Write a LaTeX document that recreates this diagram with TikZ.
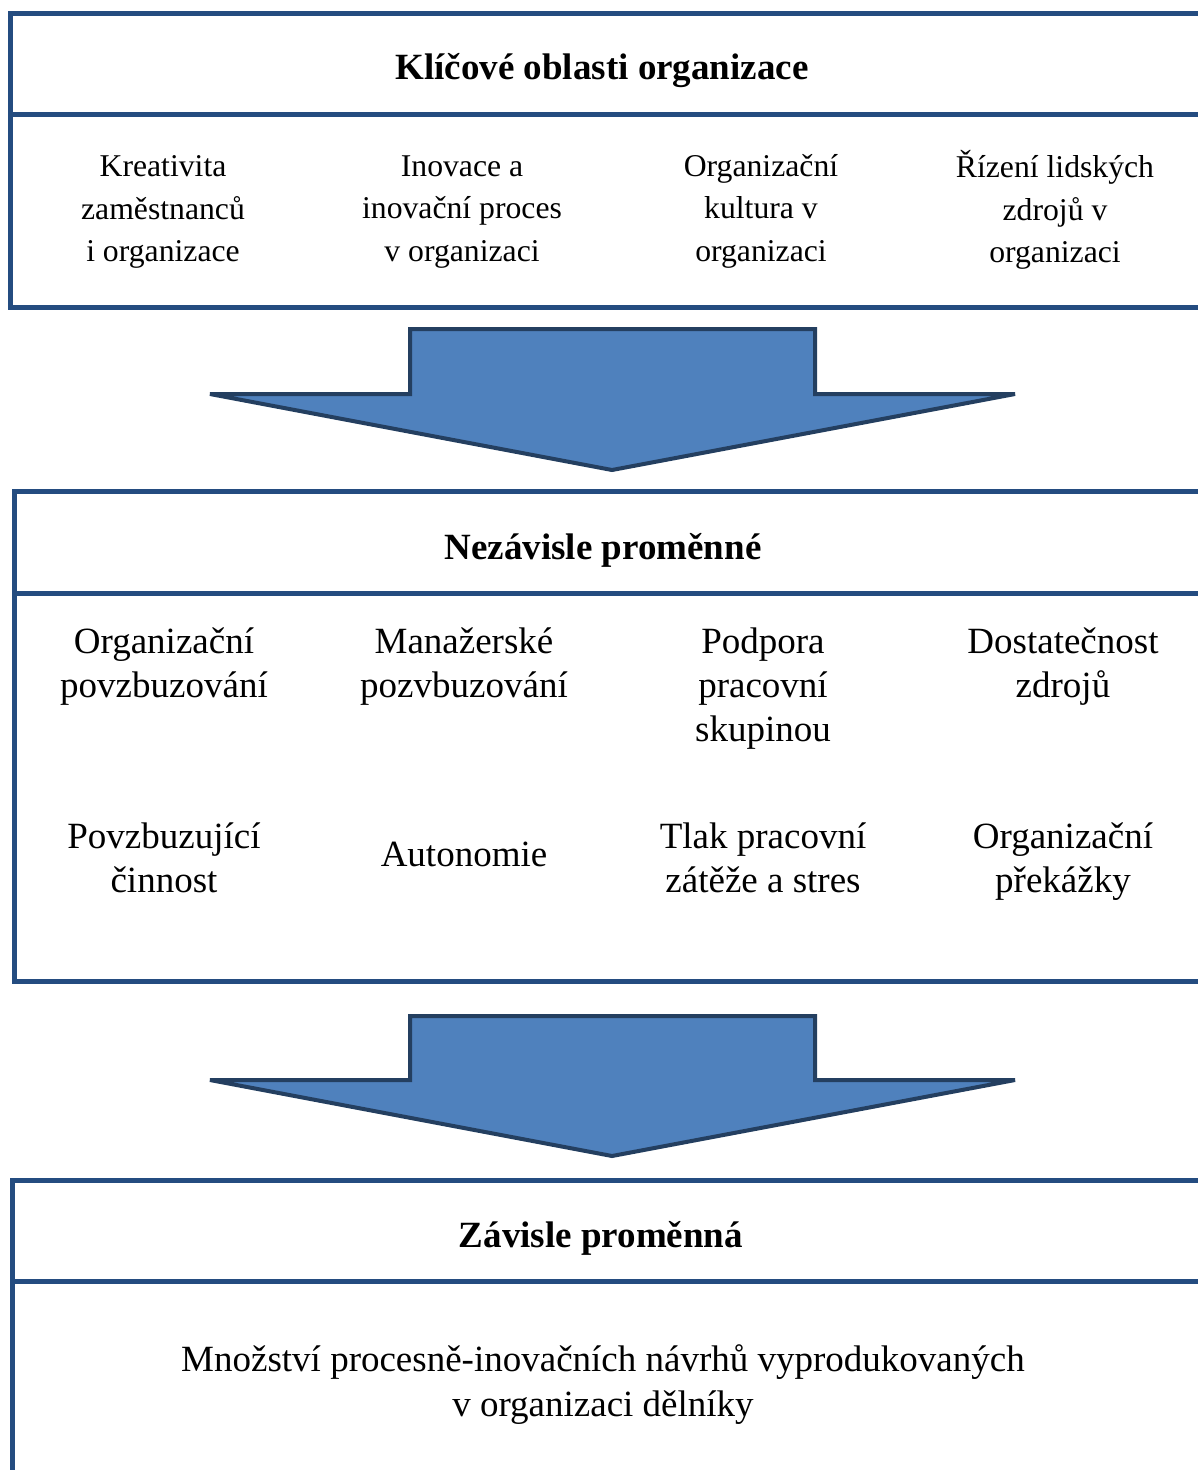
\documentclass[tikz,border=0pt]{standalone}
\usepackage{fontspec}
\setmainfont{Liberation Serif}
\definecolor{boxline}{HTML}{244C80}
\definecolor{arrowfill}{HTML}{4F81BD}
\definecolor{arrowline}{HTML}{243F60}
\begin{document}
\begin{tikzpicture}[x=1pt,y=-1pt,
  frame/.style={draw=boxline,line width=5pt},
  bigarrow/.style={draw=arrowline,fill=arrowfill,line width=4pt,line join=miter},
  head/.style={font=\fontsize{37}{44}\selectfont\bfseries,inner sep=0pt},
  small/.style={font=\fontsize{31.7}{42.5}\selectfont,align=center,inner sep=0pt},
  big/.style={font=\fontsize{37}{44}\selectfont,align=center,inner sep=0pt},
  bigger/.style={font=\fontsize{37}{45}\selectfont,align=center,inner sep=0pt}]
\useasboundingbox (0,0) rectangle (1198,1470);
% box 1
\draw[frame] (1220,13) -- (10,13) -- (10,307) -- (1220,307);
\draw[frame] (10,114) -- (1220,114);
\node[head] (h1) at (602,71) {Klíčové oblasti organizace};
\node[small] (a1) at (163,212) {Kreativita\\zaměstnanců\\i organizace};
\node[small] (a2) at (462,212) {Inovace a\\inovační proces\\v organizaci};
\node[small] (a3) at (761,211) {Organizační\\kultura v\\organizaci};
\node[small] (a4) at (1055,210) {Řízení lidských\\zdrojů v\\organizaci};
% arrow 1
\draw[bigarrow] (410,329) -- (815,329) -- (815,394) -- (1015,394) -- (612,470) -- (210,394) -- (410,394) -- cycle;
% box 2
\draw[frame] (1220,491) -- (14,491) -- (14,981) -- (1220,981);
\draw[frame] (14,593) -- (1220,593);
\node[head] (h2) at (603,550) {Nezávisle proměnné};
\node[big] (b1) at (164,667) {Organizační\\povzbuzování};
\node[big] (b2) at (464,667) {Manažerské\\pozvbuzování};
\node[big] (b3) at (763,689) {Podpora\\pracovní\\skupinou};
\node[big] (b4) at (1063,667) {Dostatečnost\\zdrojů};
\node[big] (b5) at (164,858) {Povzbuzující\\činnost};
\node[big] (b6) at (464,854) {Autonomie};
\node[big] (b7) at (763,858) {Tlak pracovní\\zátěže a stres};
\node[big] (b8) at (1063,862) {Organizační\\překážky};
% arrow 2
\draw[bigarrow] (410,1016) -- (815,1016) -- (815,1080) -- (1015,1080) -- (612,1156) -- (210,1080) -- (410,1080) -- cycle;
% box 3
\draw[frame] (1220,1180) -- (12,1180) -- (12,1490);
\draw[frame] (12,1281) -- (1220,1281);
\node[head] (h3) at (601,1238) {Závisle proměnná};
\node[bigger] (c1) at (603,1385) {Množství procesně-inovačních návrhů vyprodukovaných\\v organizaci dělníky};
\end{tikzpicture}
\end{document}
